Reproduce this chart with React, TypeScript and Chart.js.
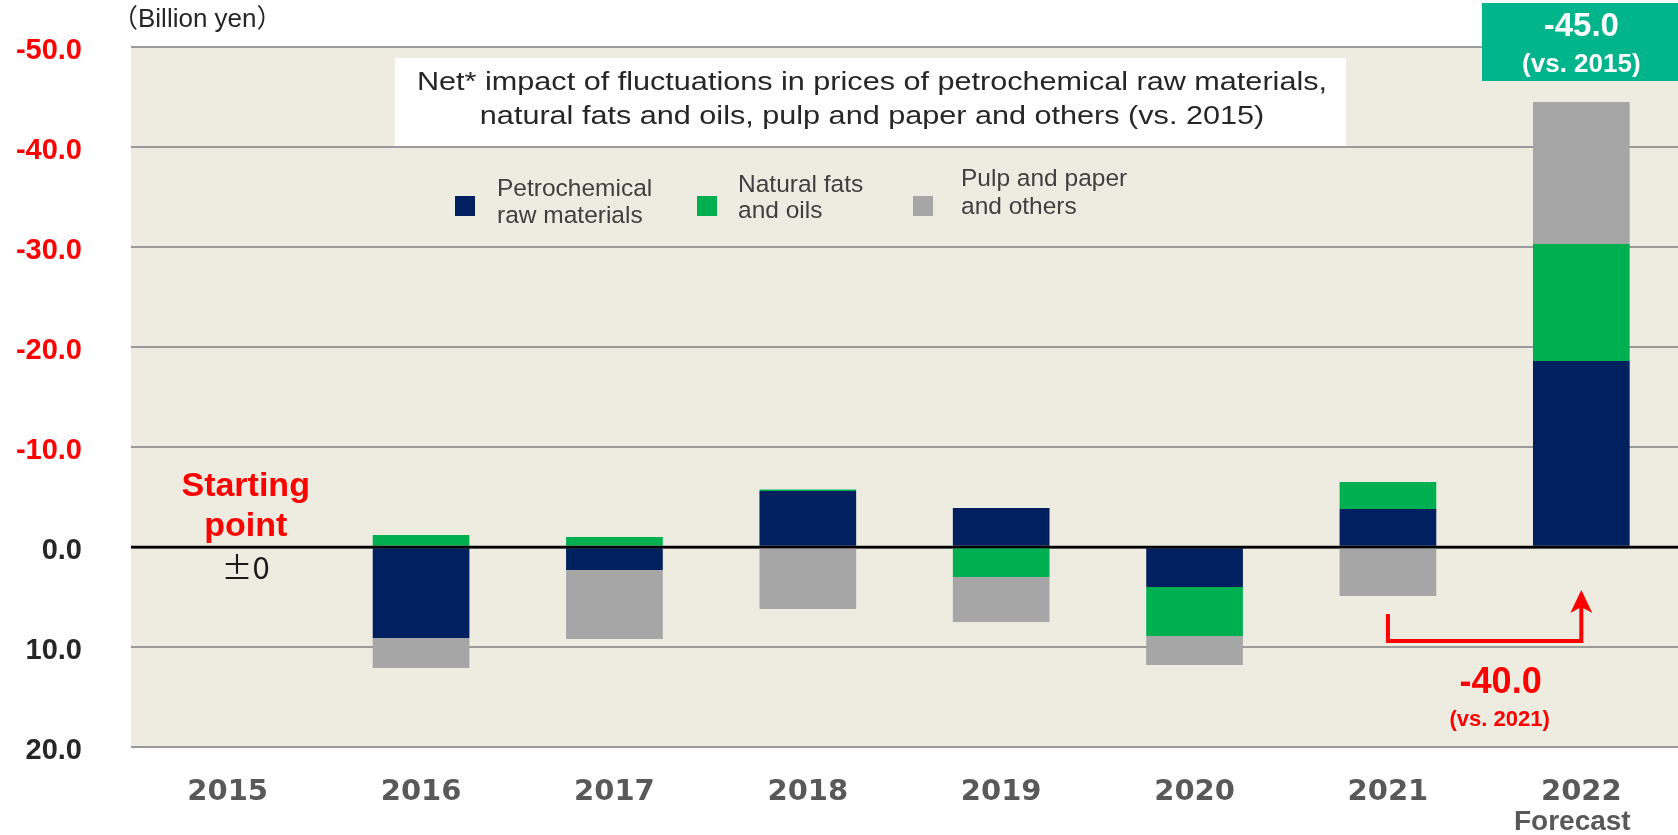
import React, { useEffect, useRef } from 'react';
import { Chart, registerables } from 'chart.js';

Chart.register(...registerables);

// ---- Data ----
const categories = ['2015', '2016', '2017', '2018', '2019', '2020', '2021', '2022'];
const petrochemical = [0, 9.1, 2.3, -5.6, -3.9, 4.0, -3.8, -18.6];
const fatsOils = [0, -1.2, -1.0, -0.15, 3.0, 4.9, -2.7, -11.7];
const pulpPaper = [0, 3.0, 6.9, 6.2, 4.5, 2.9, 4.9, -14.2];

const seriesNames = ['Petrochemical raw materials', 'Natural fats and oils', 'Pulp and paper and others'];
const legendLines = [
  ['Petrochemical', 'raw materials'],
  ['Natural fats', 'and oils'],
  ['Pulp and paper', 'and others'],
];
const seriesColors = ['#002060', '#00B050', '#A6A6A6'];

const yMin = -50;
const yMax = 20;
const yStep = 10;

const titleLines = [
  'Net* impact of fluctuations in prices of petrochemical raw materials,',
  'natural fats and oils, pulp and paper and others (vs. 2015)',
];
const unitLabel = '（Billion yen）';
const totalLabel = '-45.0';
const totalSub = '(vs. 2015)';
const diffLabel = '-40.0';
const diffSub = '(vs. 2021)';
const forecastLabel = 'Forecast';

const overlayPlugin = {
  id: 'overlay',
  beforeDraw(chart: any) {
    const { ctx, chartArea } = chart;
    ctx.save();
    ctx.fillStyle = '#EEEBE0';
    ctx.fillRect(chartArea.left, chartArea.top, chartArea.right - chartArea.left, chartArea.bottom - chartArea.top);
    ctx.restore();
  },
  afterDatasetsDraw(chart: any) {
    const { ctx, chartArea, scales } = chart;
    const y0 = scales.y.getPixelForValue(0);
    ctx.save();
    ctx.strokeStyle = '#000';
    ctx.lineWidth = 2.5;
    ctx.beginPath();
    ctx.moveTo(chartArea.left, y0);
    ctx.lineTo(chartArea.right, y0);
    ctx.stroke();
    ctx.restore();
  },
  afterDraw(chart: any) {
    const { ctx, scales } = chart;
    const xs = scales.x;
    const ys = scales.y;
    ctx.save();

    // Unit label
    ctx.fillStyle = '#262626';
    ctx.font = '26px "Liberation Sans", "Noto Sans CJK JP"';
    ctx.textAlign = 'left';
    ctx.textBaseline = 'middle';
    ctx.fillText(unitLabel, 112, 20);

    // Title box
    ctx.fillStyle = '#FFFFFF';
    ctx.fillRect(395, 58, 951, 88);
    ctx.fillStyle = '#262626';
    ctx.font = '25px "Liberation Sans"';
    ctx.textAlign = 'center';
    ctx.textBaseline = 'alphabetic';
    const w1 = ctx.measureText(titleLines[0]).width;
    const sx = 910 / w1;
    const tcx = 872;
    [90, 124].forEach((by, i) => {
      ctx.save();
      ctx.translate(tcx, by);
      ctx.scale(sx, 1);
      ctx.fillText(titleLines[i], 0, 0);
      ctx.restore();
    });

    // Legend
    const sqX = [455, 697, 913];
    const txX = [497, 738, 961];
    const base = [[195.7, 222.7], [191.7, 218.3], [186, 214]];
    ctx.font = '24.5px "Liberation Sans"';
    ctx.textAlign = 'left';
    chart.data.datasets.forEach((ds: any, i: number) => {
      ctx.fillStyle = ds.backgroundColor;
      ctx.fillRect(sqX[i], 196, 20, 20);
      ctx.fillStyle = '#404040';
      legendLines[i].forEach((ln, j) => ctx.fillText(ln, txX[i], base[i][j]));
    });

    // Starting point
    ctx.fillStyle = '#FF0000';
    ctx.font = 'bold 34px "Liberation Sans"';
    ctx.textAlign = 'center';
    const cx0 = xs.getPixelForValue(0) + 18;
    ctx.fillText('Starting', cx0, 496);
    ctx.fillText('point', cx0, 536);
    ctx.fillStyle = '#1a1a1a';
    ctx.font = '31px "Noto Sans CJK JP"';
    ctx.textBaseline = 'middle';
    ctx.fillText('±0', cx0, 567);

    // Arrow 2021 -> 2022
    const xa = xs.getPixelForValue(6);
    const xb = xs.getPixelForValue(7);
    const yTop = ys.getPixelForValue(6.7);
    const yMid = ys.getPixelForValue(9.4);
    const yTip = ys.getPixelForValue(4.3);
    ctx.strokeStyle = '#FF0000';
    ctx.lineWidth = 4;
    ctx.lineJoin = 'miter';
    ctx.beginPath();
    ctx.moveTo(xa, yTop);
    ctx.lineTo(xa, yMid);
    ctx.lineTo(xb, yMid);
    ctx.lineTo(xb, yTip + 14);
    ctx.stroke();
    ctx.fillStyle = '#FF0000';
    ctx.beginPath();
    ctx.moveTo(xb, yTip);
    ctx.lineTo(xb - 11, yTip + 23);
    ctx.lineTo(xb, yTip + 17);
    ctx.lineTo(xb + 11, yTip + 23);
    ctx.closePath();
    ctx.fill();

    ctx.textAlign = 'center';
    ctx.textBaseline = 'middle';
    ctx.font = 'bold 36px "Liberation Sans"';
    ctx.fillText(diffLabel, (xa + xb) / 2 + 16, 683);
    ctx.font = 'bold 22px "Liberation Sans"';
    ctx.fillText(diffSub, (xa + xb) / 2 + 15, 720);

    // Total box
    ctx.fillStyle = '#00B48C';
    ctx.fillRect(1482, 3, 196, 78);
    ctx.fillStyle = '#FFFFFF';
    ctx.font = 'bold 33px "Liberation Sans"';
    ctx.fillText(totalLabel, xb, 27);
    ctx.font = 'bold 26px "Liberation Sans"';
    ctx.fillText(totalSub, xb, 65);

    // Forecast
    ctx.fillStyle = '#595959';
    ctx.font = 'bold 28px "Liberation Sans"';
    ctx.fillText(forecastLabel, xb - 9, 822);

    ctx.restore();
  },
};

export default function App() {
  const ref = useRef<HTMLCanvasElement>(null);
  useEffect(() => {
    const canvas = ref.current!;
    const values = [petrochemical, fatsOils, pulpPaper];
    const chart = new Chart(canvas, {
      type: 'bar',
      data: {
        labels: categories,
        datasets: values.map((v, i) => ({
          label: seriesNames[i],
          data: v,
          backgroundColor: seriesColors[i],
          borderWidth: 0,
          barPercentage: 0.5,
          categoryPercentage: 1.0,
        })),
      },
      options: {
        animation: false,
        responsive: false,
        layout: { padding: { top: 47, left: 0, right: 0, bottom: 0 } },
        plugins: {
          legend: { display: false },
          tooltip: { enabled: false },
        },
        scales: {
          x: {
            stacked: true,
            grid: { display: false, drawTicks: false },
            border: { display: false },
            ticks: {
              color: '#595959',
              font: { family: '"DejaVu Sans"', weight: 'bold', size: 29 },
              padding: 28,
              maxRotation: 0,
            },
            afterFit: (s: any) => {
              s.height = 88;
              s.paddingLeft = 0;
              s.paddingRight = 0;
            },
          },
          y: {
            stacked: true,
            reverse: true,
            min: yMin,
            max: yMax,
            border: { display: false },
            grid: {
              drawTicks: false,
              color: (c: any) => (c.tick && c.tick.value === 0 ? '#000000' : '#9A9A9A'),
              lineWidth: (c: any) => (c.tick && c.tick.value === 0 ? 2.5 : 2),
            },
            ticks: {
              stepSize: yStep,
              padding: 49,
              labelOffset: 4,
              color: (c: any) => (c.tick && c.tick.value < 0 ? '#FF0000' : '#262626'),
              font: { family: '"Liberation Sans"', weight: 'bold', size: 29 },
              callback: (v: any) => Number(v).toFixed(1),
            },
            afterFit: (s: any) => {
              s.width = 131;
              s.paddingTop = 0;
              s.paddingBottom = 0;
            },
          },
        },
      },
      plugins: [overlayPlugin],
    } as any);
    return () => chart.destroy();
  }, []);
  return (
    <div style={{ position: 'absolute', left: 0, top: 0, width: 1678, height: 835, background: '#FFFFFF' }}>
      <canvas ref={ref} width={1678} height={835} style={{ display: 'block', width: 1678, height: 835 }} />
    </div>
  );
}
